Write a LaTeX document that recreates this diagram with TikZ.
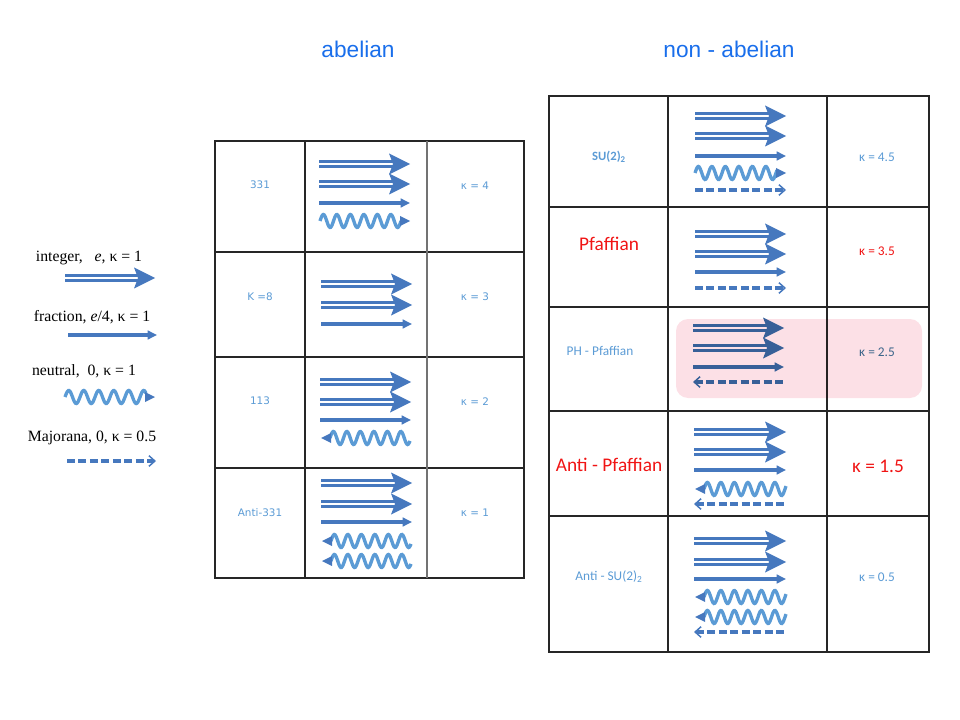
\documentclass[tikz,border=0pt]{standalone}
\usepackage{fontspec}
\setmainfont{Liberation Serif}
\newfontfamily\arialf{Liberation Sans}
\newfontfamily\calib{Carlito}
\newfontfamily\dejav{DejaVu Sans}
\usetikzlibrary{arrows.meta}
\definecolor{arrblue}{RGB}{70,120,190}
\definecolor{wavblue}{RGB}{91,155,213}
\definecolor{lblblue}{RGB}{91,155,213}
\definecolor{titblue}{RGB}{25,110,235}
\definecolor{redtxt}{RGB}{240,20,20}
\definecolor{pinkbg}{RGB}{252,224,230}
\tikzset{
  tline/.style={draw=black!85,line width=0.8pt},
  tlinegray/.style={draw=black!55,line width=1.3pt},
  legtxt/.style={font=\fontsize{11.8}{14}\selectfont,text=black},
  titletxt/.style={font=\arialf\fontsize{17}{20}\selectfont,text=titblue},
  abtxt/.style={font=\dejav\fontsize{7.8}{9}\selectfont,text=lblblue},
  natxt/.style={font=\calib\fontsize{10}{12}\selectfont,text=lblblue},
  redbig/.style={font=\calib\fontsize{14.5}{16}\selectfont,text=redtxt},
}
\newcommand{\DblArr}[3]{%
  \draw[arrblue,line width=1.8pt] (#1,#3-2.5) -- (#2-16,#3-2.5) (#1,#3+2.5) -- (#2-16,#3+2.5);
  \fill[arrblue] (#2,#3) -- (#2-21,#3-10.5) -- (#2-17,#3) -- (#2-21,#3+10.5) -- cycle;}
\newcommand{\SglArr}[3]{%
  \draw[arrblue,line width=2.3pt,-{Triangle[length=7pt,width=6.5pt]}] (#1,#3) -- (#2,#3);}
\newcommand{\WavR}[4]{%
  \pgfmathsetmacro{\wavlen}{#2-#1-9}
  \draw[wavblue,line width=2.5pt] plot[domain=0:\wavlen,samples=100,smooth] ({#1+\x},{#3-6.5*sin(\x/#4*360)});
  \fill[arrblue] (#2,#3) -- (#2-10,#3-5) -- (#2-10,#3+5) -- cycle;}
\newcommand{\WavL}[4]{%
  \pgfmathsetmacro{\wavlen}{#2-#1-9}
  \draw[wavblue,line width=2.5pt] plot[domain=0:\wavlen,samples=100,smooth] ({#1+9+\x},{#3-6.5*sin(\x/#4*360)});
  \fill[arrblue] (#1,#3) -- (#1+10,#3-5) -- (#1+10,#3+5) -- cycle;}
\newcommand{\DshR}[3]{%
  \draw[arrblue,line width=2.5pt,dash pattern=on 6pt off 2.6pt,-{Straight Barb[length=4.5pt,width=8pt,line width=1.1pt]}] (#1,#3) -- (#2,#3);}
\newcommand{\DshL}[3]{%
  \draw[arrblue,line width=2.5pt,dash pattern=on 6pt off 2.6pt,{Straight Barb[length=4.5pt,width=8pt,line width=1.1pt]}-] (#1,#3) -- (#2,#3);}
\begin{document}
\begin{tikzpicture}[x=0.75pt,y=-0.75pt]
\useasboundingbox (0,0) rectangle (960,720);

% titles
\node[titletxt] (tab) at (358,49) {abelian};
\node[titletxt] (tna) at (729,49) {non - abelian};

% legend
\node[legtxt] (l1) at (89,258) {integer,\ \ \ \textit{e}, κ = 1};
\node[legtxt] (l2) at (92,317) {fraction,\ \textit{e}/4, κ = 1};
\node[legtxt] (l3) at (84,371) {neutral,\ \ 0, κ = 1};
\node[legtxt] (l4) at (92,438) {Majorana,\ 0, κ = 0.5};
\DblArr{65}{155}{278}
\SglArr{68}{157}{335}
\WavR{65}{155}{397}{15}
\DshR{67}{156}{461}

% abelian table
\draw[tline] (215,141) rectangle (524,578);
\foreach \yy in {252,357,468} \draw[tline] (215,\yy) -- (524,\yy);
\draw[tline] (305,141) -- (305,578);
\draw[tlinegray] (427,141) -- (427,578);

\node[abtxt] (a1) at (260,185) {331};
\node[abtxt] (a2) at (260,297) {K =8};
\node[abtxt] (a3) at (260,401) {113};
\node[abtxt] (a4) at (260,513) {Anti-331};
\node[abtxt] (k1) at (475,186) {κ = 4};
\node[abtxt] (k2) at (475,297) {κ = 3};
\node[abtxt] (k3) at (475,402) {κ = 2};
\node[abtxt] (k4) at (475,513) {κ = 1};

\DblArr{319}{410}{164}
\DblArr{319}{410}{184}
\SglArr{319}{410}{203}
\WavR{320}{410}{221}{13.5}

\DblArr{321}{412}{284}
\DblArr{321}{412}{305}
\SglArr{321}{412}{324}

\DblArr{320}{411}{382}
\DblArr{320}{411}{402}
\SglArr{320}{411}{420}
\WavL{321}{410}{438}{13.5}

\DblArr{321}{412}{483}
\DblArr{321}{412}{504}
\SglArr{321}{412}{522}
\WavL{322}{411}{541}{13.5}
\WavL{322}{411}{561}{13.5}

% non-abelian table
\fill[pinkbg,rounded corners=9pt] (676,319) rectangle (922,398);
\draw[tline] (549,96) rectangle (929,652);
\foreach \yy in {207,307,411,516} \draw[tline] (549,\yy) -- (929,\yy);
\draw[tline] (668,96) -- (668,652);
\draw[tline] (827,96) -- (827,319) (827,398) -- (827,652);
\draw[draw=black!85!pinkbg,line width=0.8pt] (827,319) -- (827,398);

\node[natxt,font=\calib\bfseries\fontsize{9.5}{11}\selectfont] (n1) at (609,157) {SU(2)\textsubscript{2}};
\node[redbig] (n2) at (609,244) {Pfaffian};
\node[natxt] (n3) at (600,351) {PH - Pfaffian};
\node[redbig] (n4) at (609,465) {Anti - Pfaffian};
\node[natxt] (n5) at (609,577) {Anti - SU(2)\textsubscript{2}};

\node[natxt] (m1) at (877,157) {κ = 4.5};
\node[natxt,text=redtxt] (m2) at (877,251) {κ = 3.5};
\node[natxt,text=black!35!lblblue] (m3) at (877,352) {κ = 2.5};
\node[font=\calib\fontsize{14.5}{16}\selectfont,text=redtxt] (m4) at (878,466) {κ = 1.5};
\node[natxt] (m5) at (877,577) {κ = 0.5};

\DblArr{695}{786}{116}
\DblArr{695}{786}{136}
\SglArr{695}{786}{156}
\WavR{695}{786}{173}{13.5}
\DshR{695}{786}{190}

\DblArr{695}{786}{234}
\DblArr{695}{786}{254}
\SglArr{695}{786}{272}
\DshR{695}{786}{288}

\begin{scope}
\colorlet{arrblue}{arrblue!80!black}
\DblArr{693}{784}{328}
\DblArr{693}{784}{348}
\SglArr{693}{784}{367}
\DshL{693}{784}{382}
\end{scope}

\DblArr{694}{786}{432}
\DblArr{694}{786}{452}
\SglArr{694}{786}{470}
\WavL{695}{786}{489}{13.5}
\DshL{694}{786}{504}

\DblArr{694}{786}{541}
\DblArr{694}{786}{562}
\SglArr{694}{786}{579}
\WavL{695}{786}{597}{13.5}
\WavL{695}{786}{617}{13.5}
\DshL{694}{786}{632}
\end{tikzpicture}
\end{document}
